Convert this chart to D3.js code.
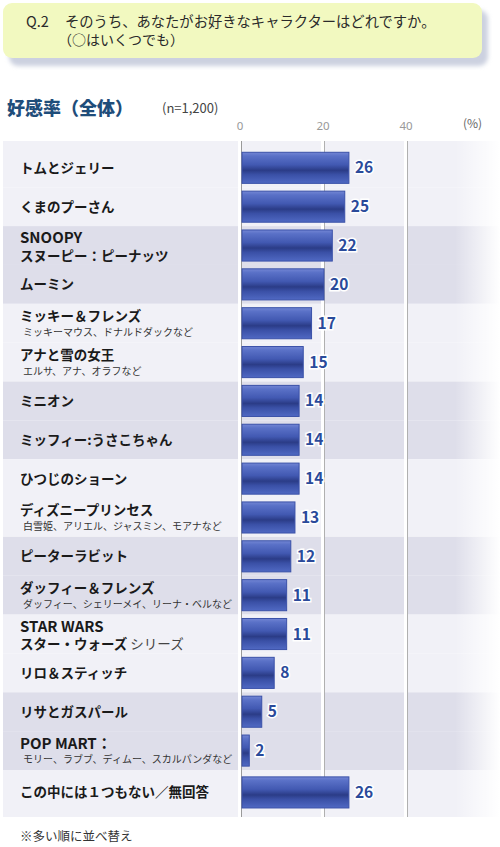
<!DOCTYPE html>
<html lang="ja">
<head>
<meta charset="utf-8">
<script src="https://cdn.jsdelivr.net/npm/d3@7"></script>
<style>
    body { margin: 0; background: #fff; }
    svg { display: block; font-family: "Noto Sans CJK JP", "Noto Sans", sans-serif; }
</style>
</head>
<body>
<svg id="chart" width="500" height="847"></svg>
<script>
// data
const names = [
    "トムとジェリー", "くまのプーさん", "SNOOPY", "ムーミン",
    "ミッキー＆フレンズ", "アナと雪の女王", "ミニオン", "ミッフィー:うさこちゃん",
    "ひつじのショーン", "ディズニープリンセス", "ピーターラビット", "ダッフィー＆フレンズ",
    "STAR WARS", "リロ＆スティッチ", "リサとガスパール", "POP MART：",
    "この中には１つもない／無回答"
];
// second line: bold continuation
const secondLines = {
    "SNOOPY": "スヌーピー：ピーナッツ",
    "STAR WARS": "スター・ウォーズ"
};
// second line: small note
const notes = {
    "ミッキー＆フレンズ": "ミッキーマウス、ドナルドダックなど",
    "アナと雪の女王": "エルサ、アナ、オラフなど",
    "ディズニープリンセス": "白雪姫、アリエル、ジャスミン、モアナなど",
    "ダッフィー＆フレンズ": "ダッフィー、シェリーメイ、リーナ・ベルなど",
    "POP MART：": "モリー、ラブブ、ディムー、スカルパンダなど"
};
const values = [26, 25, 22, 20, 17, 15, 14, 14, 14, 13, 12, 11, 11, 8, 5, 2, 26];
const tickValues = [0, 20, 40];

const question = "そのうち、あなたがお好きなキャラクターはどれですか。";
const questionNote = "（○はいくつでも）";
const title = "好感率（全体）";
const sampleSize = "(n=1,200)";
const footnote = "※多い順に並べ替え";

const data = names.map((d, i) => ({ name: d, value: values[i] }));
const main = data.slice(0, 16);
const last = data[16];

const svg = d3.select("#chart");
const defs = svg.append("defs");

// header box with soft shadow
const shadow = defs.append("filter").attr("id", "blur")
    .attr("x", "-5%").attr("y", "-20%").attr("width", "110%").attr("height", "140%");
shadow.append("feGaussianBlur").attr("stdDeviation", 2);
svg.append("rect")
    .attr("x", 9).attr("y", 10).attr("width", 479).attr("height", 56)
    .attr("rx", 9)
    .attr("fill", "#ccd1e0")
    .attr("filter", "url(#blur)");
svg.append("rect")
    .attr("x", 3).attr("y", 3).attr("width", 479).attr("height", 55)
    .attr("rx", 9)
    .attr("fill", "#f2f9c0");
svg.append("text")
    .attr("x", 26).attr("y", 27)
    .attr("font-size", 14.5).attr("fill", "#2a2a2a")
    .text("Q.2");
svg.append("text")
    .attr("x", 65).attr("y", 27)
    .attr("font-size", 14.3).attr("fill", "#2a2a2a")
    .text(question);
svg.append("text")
    .attr("x", 58).attr("y", 45)
    .attr("font-size", 14).attr("fill", "#2a2a2a")
    .text(questionNote);

// title
svg.append("text")
    .attr("x", 7).attr("y", 115)
    .attr("font-size", 18).attr("font-weight", "900").attr("fill", "#1f4d7a")
    .text(title);
svg.append("text")
    .attr("x", 162).attr("y", 113)
    .attr("font-size", 13).attr("fill", "#444")
    .text(sampleSize);

// scales
const x = d3.scaleLinear().domain([0, 40]).range([241, 407]);
const y = d3.scaleBand().domain(main.map(d => d.name)).range([148.4, 770]).padding(0);
const step = y.step();
const plotTop = 141, plotBottom = 817;
const rowY = d => d === last ? 770 + 3 : y(d.name);
const rowCenter = d => rowY(d) + step / 2;

// row bands, alternating in pairs
const bandColor = ["#f1f1f7", "#dedeea"];
svg.append("g").selectAll("rect")
    .data(data)
    .join("rect")
    .attr("x", 3)
    .attr("y", (d, i) => i === 0 ? plotTop : (d === last ? 770 : y(d.name)))
    .attr("width", 497)
    .attr("height", (d, i) => i === 0 ? y(d.name) + step - plotTop : (d === last ? plotBottom - 770 : step))
    .attr("fill", (d, i) => i === 16 ? bandColor[0] : bandColor[Math.floor(i / 2) % 2]);

// fade to white on the right
const fade = defs.append("linearGradient").attr("id", "fade");
fade.append("stop").attr("offset", 0).attr("stop-color", "#fff").attr("stop-opacity", 0);
fade.append("stop").attr("offset", 1).attr("stop-color", "#fff").attr("stop-opacity", 1);
svg.append("rect")
    .attr("x", 455).attr("y", plotTop).attr("width", 45).attr("height", plotBottom - plotTop)
    .attr("fill", "url(#fade)");

// grid lines with a white edge
const grid = svg.append("g");
grid.selectAll(".halo")
    .data(tickValues)
    .join("rect")
    .attr("class", "halo")
    .attr("x", d => x(d) - 3).attr("width", 4)
    .attr("y", plotTop).attr("height", plotBottom - plotTop)
    .attr("fill", "#fff");
grid.selectAll("line")
    .data(tickValues)
    .join("line")
    .attr("x1", d => x(d) + 0.5).attr("x2", d => x(d) + 0.5)
    .attr("y1", plotTop).attr("y2", plotBottom)
    .attr("stroke", d => d === 0 ? "#9a9a9a" : "#b0b0b0")
    .attr("stroke-width", 1);

// top axis labels
svg.append("g")
    .attr("transform", "translate(-1.5, 130)")
    .call(d3.axisTop(x).tickValues(tickValues).tickSize(0).tickPadding(0))
    .call(g => g.select(".domain").remove())
    .call(g => g.selectAll("text")
        .attr("font-family", "'Noto Sans', sans-serif")
        .attr("font-size", 11.5)
        .attr("fill", "#999"));
svg.append("text")
    .attr("x", 463).attr("y", 128)
    .attr("font-size", 12).attr("fill", "#666")
    .text("(%)");

// bar gradient
const barGrad = defs.append("linearGradient").attr("id", "bar")
    .attr("x1", 0).attr("x2", 0).attr("y1", 0).attr("y2", 1);
[[0, "#7386d4"], [0.12, "#5a71c7"], [0.4, "#4259b2"], [0.58, "#2b3c87"],
 [0.72, "#3a50a6"], [1, "#5069c3"]].forEach(([o, c]) => {
    barGrad.append("stop").attr("offset", o).attr("stop-color", c);
});

// bars
const barH = step * 0.8;
svg.append("g").selectAll("rect")
    .data(data)
    .join("rect")
    .attr("x", x(0) + 1)
    .attr("y", d => rowCenter(d) - barH / 2)
    .attr("width", d => x(d.value) - x(0) - 1)
    .attr("height", barH)
    .attr("fill", "url(#bar)")
    .attr("stroke", "#3a51a8")
    .attr("stroke-width", 1);

// value labels
svg.append("g").selectAll("text")
    .data(data)
    .join("text")
    .attr("x", d => x(d.value) + 6)
    .attr("y", d => rowCenter(d) + 5.5)
    .attr("font-size", 15.5).attr("font-weight", "bold")
    .attr("fill", "#2a4a9a")
    .attr("stroke", "#fff").attr("stroke-width", 3)
    .attr("paint-order", "stroke")
    .text(d => d.value);

// row labels
const isLatin = s => /^[A-Z ：]+$/.test(s);
const labels = svg.append("g").selectAll("g")
    .data(data)
    .join("g")
    .attr("transform", d => `translate(20, ${rowCenter(d)})`);
labels.each(function(d) {
    const g = d3.select(this);
    const t = g.append("text")
        .attr("fill", "#1a1a1a");
    t.append("tspan")
        .attr("x", 0)
        .attr("font-weight", "bold")
        .attr("font-size", isLatin(d.name) ? 15 : 13.5)
        .text(d.name);
    if (secondLines[d.name]) {
        t.attr("y", -2.5);
        t.append("tspan")
            .attr("x", 0).attr("dy", 17.5)
            .attr("font-weight", "bold").attr("font-size", 13.5)
            .text(secondLines[d.name]);
        if (d.name === "STAR WARS") {
            t.append("tspan")
                .attr("font-size", 13.5).attr("fill", "#444")
                .text(" シリーズ");
        }
    } else if (notes[d.name]) {
        t.attr("y", -2);
        t.append("tspan")
            .attr("x", 3).attr("dy", 14.5)
            .attr("font-size", 10).attr("fill", "#333")
            .text(notes[d.name]);
    } else {
        t.attr("y", 5);
    }
});

// footnote
svg.append("text")
    .attr("x", 20).attr("y", 841)
    .attr("font-size", 12.5).attr("fill", "#333")
    .text(footnote);
</script>
</body>
</html>
